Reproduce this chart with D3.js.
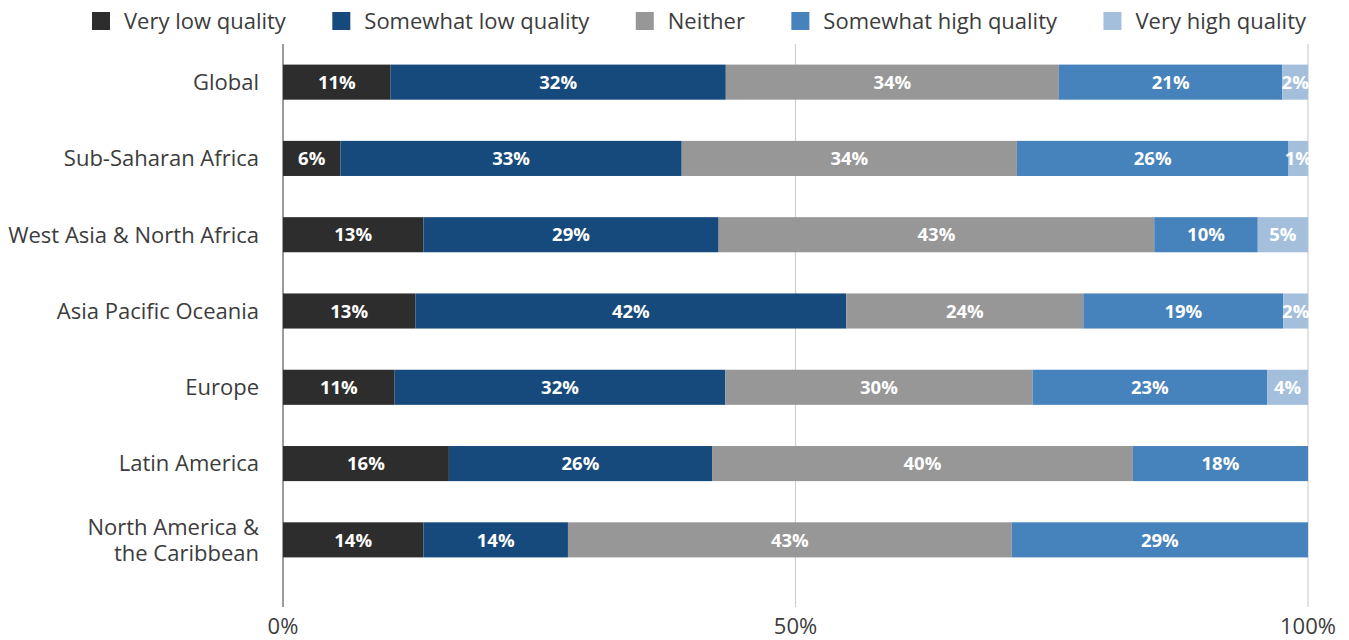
<!DOCTYPE html>
<html>
<head>
<meta charset="utf-8">
<script src="https://cdn.jsdelivr.net/npm/d3@7"></script>
<style>
  html, body { margin: 0; padding: 0; background: #ffffff; }
  svg { display: block; font-family: "Open Sans", "Noto Sans", sans-serif; }
</style>
</head>
<body>
<svg id="chart" width="1349" height="640"></svg>
<script>
// ---- data ----
const categories = ["Global", "Sub-Saharan Africa", "West Asia & North Africa", "Asia Pacific Oceania", "Europe", "Latin America", "North America &\nthe Caribbean"];
const seriesNames = ["Very low quality", "Somewhat low quality", "Neither", "Somewhat high quality", "Very high quality"];
const seriesColors = ["#2d2d2d", "#174a7c", "#979797", "#4682bb", "#a3bfdc"];

// segment shares (as drawn)
const veryLow      = [10.5,  5.6, 13.7, 12.9, 10.9, 16.2, 13.7];
const somewhatLow  = [32.7, 33.3, 28.8, 42.0, 32.3, 25.7, 14.1];
const neither      = [32.5, 32.7, 42.5, 23.1, 30.0, 41.1, 43.3];
const somewhatHigh = [21.8, 26.5, 10.1, 19.5, 22.9, 17.1, 28.9];
const veryHigh     = [ 2.5,  1.9,  4.9,  2.4,  4.0,  0,    0  ];

// printed labels
const labelVeryLow      = [11,  6, 13, 13, 11, 16, 14];
const labelSomewhatLow  = [32, 33, 29, 42, 32, 26, 14];
const labelNeither      = [34, 34, 43, 24, 30, 40, 43];
const labelSomewhatHigh = [21, 26, 10, 19, 23, 18, 29];
const labelVeryHigh     = [ 2,  1,  5,  2,  4, null, null];

const xTicks = [0, 0.5, 1];
const xTickLabels = ["0%", "50%", "100%"];

// ---- build table ----
const seriesValues = [veryLow, somewhatLow, neither, somewhatHigh, veryHigh];
const seriesLabels = [labelVeryLow, labelSomewhatLow, labelNeither, labelSomewhatHigh, labelVeryHigh];
const table = categories.map((c, i) => {
  const row = { category: c };
  seriesNames.forEach((s, j) => { row[s] = seriesValues[j][i]; });
  return row;
});

const svg = d3.select("#chart");
const plotLeft = 283, plotRight = 1308, plotTop = 44, plotBottom = 607;

const x = d3.scaleLinear().domain([0, 1]).range([plotLeft, plotRight]);
const y = d3.scaleBand().domain(categories).range([44, 578]).paddingInner(0.54).paddingOuter(0.27);

const stack = d3.stack().keys(seriesNames).offset(d3.stackOffsetExpand);
const stacked = stack(table);

// grid lines
svg.append("g").selectAll("line").data(xTicks).join("line")
  .attr("x1", d => x(d)).attr("x2", d => x(d))
  .attr("y1", plotTop).attr("y2", plotBottom)
  .attr("stroke", d => d === 0 ? "#5a5a5a" : "#cfcfcf")
  .attr("stroke-width", 1.2);

// bars
const layers = svg.append("g").selectAll("g").data(stacked).join("g")
  .attr("fill", (d, i) => seriesColors[i]);
layers.selectAll("rect").data(d => d).join("rect")
  .attr("x", d => x(d[0]))
  .attr("width", d => Math.max(0, x(d[1]) - x(d[0])))
  .attr("y", d => y(d.data.category))
  .attr("height", y.bandwidth());

// value labels
stacked.forEach((layer, j) => {
  svg.append("g").selectAll("text").data(layer.filter((d, i) => seriesLabels[j][i] != null).map(d => ({ d, lab: seriesLabels[j][categories.indexOf(d.data.category)] })))
    .join("text")
    .attr("x", o => (x(o.d[0]) + x(o.d[1])) / 2)
    .attr("y", o => y(o.d.data.category) + y.bandwidth() / 2)
    .attr("dy", "0.36em")
    .attr("text-anchor", "middle")
    .attr("fill", "#ffffff")
    .attr("font-weight", 700)
    .attr("font-size", 18.5)
    .text(o => o.lab + "%");
});

// category labels
const catG = svg.append("g");
categories.forEach(c => {
  const lines = c.split("\n");
  const cy = y(c) + y.bandwidth() / 2;
  const lh = 26;
  const t = catG.append("text")
    .attr("text-anchor", "end")
    .attr("fill", "#3c3c3c")
    .attr("font-size", 22);
  lines.forEach((ln, k) => {
    t.append("tspan")
      .attr("x", plotLeft - 24)
      .attr("y", cy + (k - (lines.length - 1) / 2) * lh)
      .attr("dy", "0.36em")
      .text(ln);
  });
});

// x axis labels
svg.append("g").selectAll("text").data(xTicks).join("text")
  .attr("x", d => x(d))
  .attr("y", 626)
  .attr("dy", "0.36em")
  .attr("text-anchor", "middle")
  .attr("fill", "#3c3c3c")
  .attr("font-size", 22)
  .text((d, i) => xTickLabels[i]);

// legend
const legend = svg.append("g");
const sw = 18, textGap = 14, legLeft = 92, legRight = 1306, legY = 21;
const items = seriesNames.map((s, i) => {
  const g = legend.append("g");
  g.append("rect").attr("width", sw).attr("height", sw).attr("y", legY - sw / 2).attr("fill", seriesColors[i]);
  const t = g.append("text").attr("x", sw + textGap).attr("y", legY).attr("dy", "0.36em")
    .attr("font-size", 22).attr("fill", "#3c3c3c").text(s);
  const w = sw + textGap + t.node().getComputedTextLength();
  return { g, w };
});
const totalW = d3.sum(items, d => d.w);
const gap = (legRight - legLeft - totalW) / (items.length - 1);
let cx = legLeft;
items.forEach(it => { it.g.attr("transform", `translate(${cx},0)`); cx += it.w + gap; });
</script>
</body>
</html>
